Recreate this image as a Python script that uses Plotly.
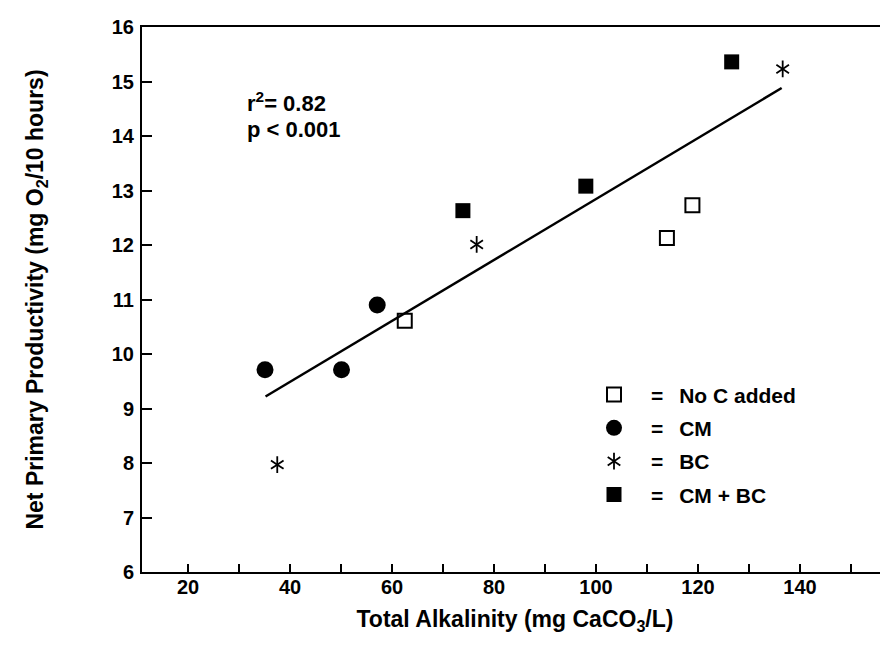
import plotly.graph_objects as go

# ---- data ----
noc_x = [62.5, 113.9, 118.9]
noc_y = [10.61, 12.13, 12.73]
cm_x = [35.1, 50.1, 57.1]
cm_y = [9.71, 9.71, 10.90]
bc_x = [37.5, 76.6, 136.6]
bc_y = [7.97, 12.01, 15.23]
cmbc_x = [73.9, 98.0, 126.6]
cmbc_y = [12.63, 13.08, 15.36]
fit_x = [35.2, 136.4]
fit_y = [9.22, 14.88]

x_tickvals = [20, 30, 40, 50, 60, 70, 80, 90, 100, 110, 120, 130, 140, 150]
x_ticktext = ["20", "", "40", "", "60", "", "80", "", "100", "", "120", "", "140", ""]
y_tickvals = [6, 7, 8, 9, 10, 11, 12, 13, 14, 15, 16]

FONT = "Liberation Sans, Arial, Helvetica, sans-serif"
BLACK = "black"
OFF = 8  # page body margin

fig = go.Figure()

fig.add_trace(go.Scatter(x=fit_x, y=fit_y, mode="lines",
                         line=dict(color=BLACK, width=2.5), showlegend=False,
                         hoverinfo="skip"))

SEP = "=\u00a0\u00a0\u2009"
fig.add_trace(go.Scatter(x=noc_x, y=noc_y, mode="markers", name=SEP + "No C added",
                         marker=dict(symbol="square-open", size=14, color=BLACK,
                                     line=dict(width=2, color=BLACK)),
                         legend="legend"))
fig.add_trace(go.Scatter(x=cm_x, y=cm_y, mode="markers", name=SEP + "CM",
                         marker=dict(symbol="circle", size=17, color=BLACK),
                         legend="legend2"))
fig.add_trace(go.Scatter(x=bc_x, y=bc_y, mode="markers", name=SEP + "BC",
                         marker=dict(symbol="y-up-open", size=10.5, color=BLACK,
                                     line=dict(width=1.8, color=BLACK)),
                         legend="legend3"))
fig.add_trace(go.Scatter(x=bc_x, y=bc_y, mode="markers", name=SEP + "BC",
                         marker=dict(symbol="y-down-open", size=10.5, color=BLACK,
                                     line=dict(width=1.8, color=BLACK)),
                         legend="legend5"))
fig.add_trace(go.Scatter(x=cmbc_x, y=cmbc_y, mode="markers", name=SEP + "CM + BC",
                         marker=dict(symbol="square", size=15, color=BLACK),
                         legend="legend4"))

# plot-area edges in page pixels of the reference
L_page, T_page, B_page, R_page = 142, 17, 572, 888
W, H = 888, 648
L = L_page - OFF
T = T_page - OFF
B = B_page - OFF
R = R_page - OFF
pw = R - L
ph = B - T


def px2paper_x(px):
    return (px - OFF - L) / pw


def py2paper_y(py):
    return (B - (py - OFF)) / ph


leg_font = dict(family=FONT, size=21, color=BLACK, weight="bold")
leg_common = dict(xanchor="left", yanchor="middle", bgcolor="rgba(0,0,0,0)",
                  borderwidth=0, itemwidth=64, itemsizing="trace")
leg_x = px2paper_x(577)
rows = [391.5, 425.5, 459.5, 493.5]

fig.update_layout(
    width=W, height=H,
    margin=dict(l=L, r=W - R, t=T, b=H - B, pad=0),
    paper_bgcolor="white", plot_bgcolor="white",
    font=dict(family=FONT, color=BLACK),
    legend=dict(x=leg_x, y=py2paper_y(rows[0]), font=leg_font, **leg_common),
    legend2=dict(x=leg_x, y=py2paper_y(rows[1]), font=leg_font, **leg_common),
    legend3=dict(x=leg_x, y=py2paper_y(rows[2]), font=leg_font, **leg_common),
    legend5=dict(x=leg_x, y=py2paper_y(rows[2]),
                 font=dict(family=FONT, size=21, color="rgba(0,0,0,0)", weight="bold"),
                 **leg_common),
    legend4=dict(x=leg_x, y=py2paper_y(rows[3]), font=leg_font, **leg_common),
    xaxis=dict(range=[10.98, 157.25], showline=True, linewidth=2, linecolor=BLACK,
               mirror=True, ticks="inside", ticklen=8, tickwidth=2, tickcolor=BLACK,
               tickvals=x_tickvals, ticktext=x_ticktext, showgrid=False, zeroline=False,
               tickfont=dict(family=FONT, size=20, color=BLACK, weight="bold"),
               ticklabelstandoff=-4, ticklabeloverflow="allow",
               title=dict(text="Total Alkalinity (mg CaCO<sub>3</sub>/L)",
                          font=dict(family=FONT, size=23, color=BLACK, weight="bold"),
                          standoff=14)),
    yaxis=dict(range=[6, 16], showline=True, linewidth=2, linecolor=BLACK,
               ticks="inside", ticklen=10, tickwidth=2, tickcolor=BLACK,
               tickvals=y_tickvals, showgrid=False, zeroline=False,
               tickfont=dict(family=FONT, size=20, color=BLACK, weight="bold"),
               ticklabelstandoff=2, ticklabeloverflow="allow",
               title=dict(text="Net Primary Productivity (mg O<sub>2</sub>/10 hours)",
                          font=dict(family=FONT, size=23, color=BLACK, weight="bold"),
                          standoff=62)),
    annotations=[
        dict(text="r<sup>2</sup>= 0.82", xref="paper", yref="paper",
             x=px2paper_x(245), y=py2paper_y(93.5), xanchor="left", yanchor="middle",
             showarrow=False, font=dict(family=FONT, size=22, color=BLACK, weight="bold")),
        dict(text="p < 0.001", xref="paper", yref="paper",
             x=px2paper_x(245), y=py2paper_y(121), xanchor="left", yanchor="middle",
             showarrow=False, font=dict(family=FONT, size=22, color=BLACK, weight="bold")),
    ],
)

fig.write_html("out.html")
